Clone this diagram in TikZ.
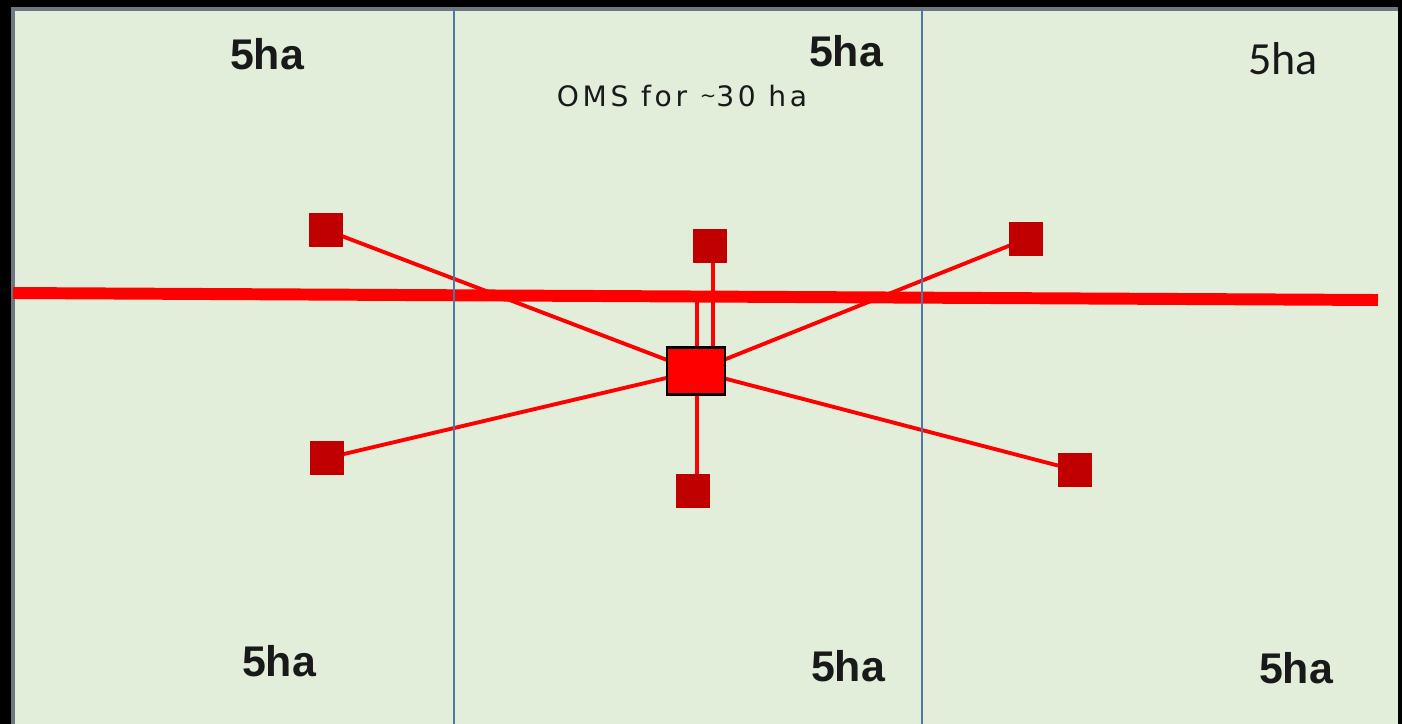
\documentclass[tikz,border=0pt]{standalone}
\usepackage{fontspec}
\newfontfamily\arialf{Liberation Sans}
\newfontfamily\calf{Carlito}
\newfontfamily\omsf[LetterSpace=13]{DejaVu Sans}
\definecolor{field}{RGB}{226,238,218}
\definecolor{edge}{RGB}{110,120,130}
\definecolor{divider}{RGB}{79,120,170}
\definecolor{darkred}{RGB}{192,0,0}
\definecolor{txt}{RGB}{25,25,25}
\tikzset{
  plotlabel/.style={font=\arialf\bfseries\fontsize{12.2}{14}\selectfont, text=txt, anchor=base, inner sep=0},
  sensor/.style={fill=darkred, draw=none, minimum size=0.33cm, inner sep=0},
  hub/.style={fill=red, draw=black, line width=0.6pt, minimum width=0.58cm, minimum height=0.47cm, inner sep=0},
  mainline/.style={red, line width=3.4pt},
  feeder/.style={red, line width=1.1pt},
  divline/.style={divider, line width=0.55pt}
}
\begin{document}
\begin{tikzpicture}[x=0.01cm, y=-0.01cm]
  % frame and field
  \fill[black] (0,0) rectangle (1402,724);
  \useasboundingbox (0,0) rectangle (1402,724);
  \fill[field] (13,9) rectangle (1398,724);
  \draw[edge, line width=1pt] (13,740) -- (13,9) -- (1398,9);

  % hub and sensors
  \node[hub] (hub) at (696,371) {};
  \node[sensor] (tl) at (326,230) {};
  \node[sensor] (tm) at (710,246) {};
  \node[sensor] (tr) at (1026,239) {};
  \node[sensor] (bl) at (327,458) {};
  \node[sensor] (bm) at (693,491) {};
  \node[sensor] (br) at (1075,470) {};

  % trunk line
  \coordinate (trunkW) at (13,293);
  \coordinate (trunkE) at (1378,300);
  \coordinate (tap) at (697,296);
  \coordinate (tmfoot) at (713,262);
  \coordinate (bmtop) at (697,476);
  \draw[mainline] (trunkW) -- (trunkE);

  % feeders from hub to sensors
  \draw[feeder] (hub.center) -- (tl.center);
  \draw[feeder] (hub.center) -- (bl.center);
  \draw[feeder] (hub.center) -- (tr.center);
  \draw[feeder] (hub.center) -- (br.center);
  \draw[feeder] (bmtop) -- (bmtop |- hub.south);
  \draw[feeder] (tap) -- (tap |- hub.north);
  \draw[feeder] (tmfoot) -- (tmfoot |- hub.north);

  % plot dividers
  \coordinate (d1t) at (454,9);
  \coordinate (d1b) at (454,724);
  \coordinate (d2t) at (922,9);
  \coordinate (d2b) at (922,724);
  \draw[divline] (d1t) -- (d1b);
  \draw[divline] (d2t) -- (d2b);

  % redraw nodes on top
  \node[hub] at (hub.center) {};
  \foreach \s in {tl,tm,tr,bl,bm,br} \node[sensor] at (\s.center) {};

  % labels
  \node[plotlabel] (l1) at (267,69) {5ha};
  \node[plotlabel] (l2) at (846,66) {5ha};
  \node[font=\calf\fontsize{13.1}{15}\selectfont, text=txt, anchor=base, inner sep=0] (l3) at (1283,74) {5ha};
  \node[plotlabel] (l4) at (279,676) {5ha};
  \node[plotlabel] (l5) at (848,681) {5ha};
  \node[plotlabel] (l6) at (1296,683) {5ha};
  \node[font=\omsf\fontsize{8}{10}\selectfont, text=txt, anchor=base, inner sep=0] (oms) at (682,106) {OMS for \raisebox{0.25ex}{\scalebox{0.7}{\textasciitilde}}30 ha};
\end{tikzpicture}
\end{document}
